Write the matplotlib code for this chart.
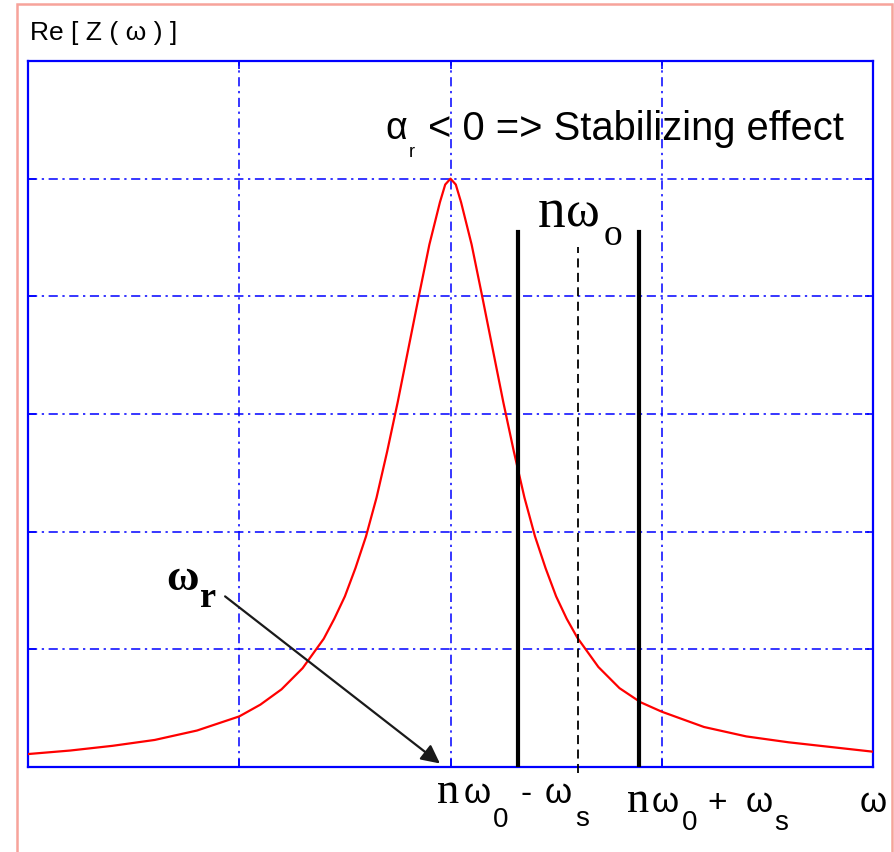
import matplotlib.pyplot as plt
from matplotlib.patches import Rectangle

W, H = 894, 853

# resonance curve Re[Z(w)]
freq = [0.0, 0.2, 0.4, 0.6, 0.8, 0.9, 1.0, 1.1, 1.2, 1.3, 1.4, 1.45, 1.5,
        1.55, 1.6, 1.65, 1.7, 1.75, 1.8, 1.85, 1.9, 1.95, 1.975, 2.0,
        2.025, 2.05, 2.1, 2.15, 2.2, 2.25, 2.3, 2.35, 2.4, 2.45, 2.5, 2.55,
        2.6, 2.7, 2.8, 2.9, 3.0, 3.2, 3.4, 3.6, 3.8, 4.0]
re_z = [0.11, 0.14, 0.18, 0.23, 0.31, 0.37, 0.43, 0.53, 0.66, 0.84, 1.09,
        1.26, 1.45, 1.69, 1.96, 2.29, 2.68, 3.1, 3.55, 4.0, 4.44, 4.8, 4.95,
        5.0, 4.95, 4.8, 4.44, 4.0, 3.55, 3.1, 2.68, 2.29, 1.96, 1.69, 1.45,
        1.26, 1.1, 0.85, 0.67, 0.55, 0.47, 0.34, 0.26, 0.21, 0.17, 0.13]

# sidebands and revolution harmonic
side_x = [2.32, 2.89]
side_top = 4.545
harm_x = 2.604
harm_top = 4.42

fig = plt.figure(figsize=(W / 100, H / 100), dpi=100)
ax = fig.add_axes([28 / W, 1 - 768 / H, 845 / W, 706 / H])

ax.plot(freq, re_z, color='red', lw=1.6, zorder=3)
for sx in side_x:
    ax.plot([sx, sx], [0, side_top], color='black', lw=3, zorder=4)
ax.plot([harm_x, harm_x], [-0.05, harm_top], color='black', lw=1.3,
        dashes=(5, 3), zorder=4, clip_on=False)

ax.set_xlim(0, 4)
ax.set_ylim(0, 6)
ax.set_xticks([0, 1, 2, 3, 4])
ax.set_yticks([0, 1, 2, 3, 4, 5, 6])
ax.set_xticklabels([])
ax.set_yticklabels([])
ax.tick_params(direction='in', length=6, width=1.2, color='blue',
               top=True, right=True)
ax.grid(True, color='blue', lw=1.1, linestyle=(0, (6, 3, 1.5, 3)))
ax.set_axisbelow(True)
for sp in ax.spines.values():
    sp.set_color('blue')
    sp.set_linewidth(1.6)

# arrow pointing at the resonance frequency
ax.annotate('', xy=(1.95, 0.03), xytext=(0.933, 1.45),
            arrowprops=dict(arrowstyle='-|>', color='#1a1a1a', lw=1.6,
                            mutation_scale=28, shrinkA=0, shrinkB=0),
            annotation_clip=False, zorder=5)


def put(x, y, s, size, family='Liberation Sans', weight='normal'):
    fig.text(x / W, 1 - y / H, s, fontsize=size, family=family,
             weight=weight, ha='left', va='baseline')


put(30, 40, 'Re [ Z ( ω ) ]', 19)

put(385, 139, 'α', 27)
put(409, 157, 'r', 13)
put(428, 140, '< 0 => Stabilizing effect', 28.7)

put(538, 227, 'n', 40, 'Liberation Serif')
put(566, 227, 'ω', 37, 'Liberation Serif')
put(604, 245, 'o', 27, 'Liberation Serif')

put(166, 590, 'ω', 32, 'Liberation Serif', 'bold')
put(200, 607, 'r', 26, 'Liberation Serif', 'bold')

put(437, 803, 'n', 32, 'Liberation Serif')
put(464, 803, 'ω', 25)
put(493, 827, '0', 20)
put(521, 803, '-', 24)
put(545, 803, 'ω', 25)
put(575, 826, 's', 20)

put(627, 812, 'n', 32, 'Liberation Serif')
put(652, 812, 'ω', 25)
put(682, 830, '0', 20)
put(707, 812, '+', 24)
put(746, 812, 'ω', 25)
put(774, 830, 's', 20)

put(860, 812, 'ω', 25)

# light frame around the picture
fig.patches.append(Rectangle((17 / W, -0.1), 875 / W, 1.1 - 5 / H,
                             transform=fig.transFigure, fill=False,
                             edgecolor='#f7a39b', lw=1.8))

plt.savefig('out.png', dpi=100)
